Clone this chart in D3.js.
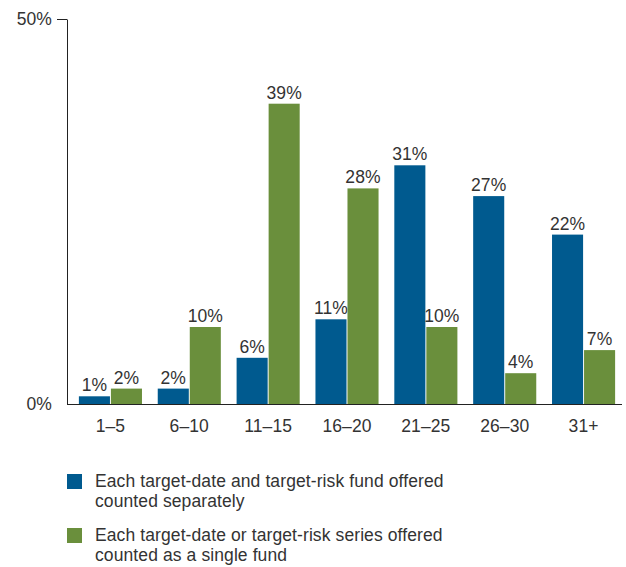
<!DOCTYPE html>
<html><head><meta charset="utf-8">
<script src="https://cdn.jsdelivr.net/npm/d3@7"></script>
<style>body{margin:0;background:#fff;} text{font-family:"Liberation Sans",Arial,sans-serif;fill:#333;letter-spacing:0.1px;}</style>
</head><body>
<svg id="c" width="626" height="567"></svg>
<script>
const categories = ["1–5","6–10","11–15","16–20","21–25","26–30","31+"];
const seriesNames = ["Each target-date and target-risk fund offered|counted separately",
                     "Each target-date or target-risk series offered|counted as a single fund"];
const separately = [1,2,6,11,31,27,22];
const single = [2,10,39,28,10,4,7];
const yTicks = [0,50];
const colors = ["#005a8f","#6a8f3c"];
const FS = "17.5px";

const svg = d3.select("#c");
const x = d3.scaleBand().domain(categories).range([71,623]).paddingInner(0.2).paddingOuter(0.1);
const y = d3.scaleLinear().domain([0,50]).range([404,19]);
const xs = d3.scaleBand().domain([0,1]).range([0,x.bandwidth()]).paddingInner(0.03);

// axes
const ya = svg.append("g").attr("transform","translate(67,0)")
  .call(d3.axisLeft(y).tickValues(yTicks).tickFormat(d=>d+"%").tickSize(10).tickSizeOuter(0));
ya.select(".domain").attr("stroke","#222");
ya.selectAll(".tick line").attr("stroke","#222").attr("stroke-width",1).filter(d=>d===0).remove();
ya.selectAll(".tick text").attr("x",-15).style("font-size",FS).style("font-family","Liberation Sans, Arial").attr("fill","#333");

const xa = svg.append("g").attr("transform","translate(0,404)")
  .call(d3.axisBottom(x).tickSize(0).tickSizeOuter(0));
xa.select(".domain").attr("d","M67,0.5H622").attr("stroke","#222");
xa.selectAll(".tick text").attr("dy","1.42em").style("font-size",FS).style("font-family","Liberation Sans, Arial").attr("fill","#333");

const data = [separately, single];
data.forEach((vals,si)=>{
  const g = svg.append("g");
  g.selectAll("rect").data(vals).join("rect")
    .attr("x",(d,i)=>x(categories[i])+xs(si))
    .attr("width",xs.bandwidth())
    .attr("y",d=>y(d))
    .attr("height",d=>y(0)-y(d))
    .attr("fill",colors[si]);
  g.selectAll("text").data(vals).join("text")
    .attr("x",(d,i)=>x(categories[i])+xs(si)+xs.bandwidth()/2)
    .attr("y",d=>y(d)-5)
    .attr("text-anchor","middle")
    .style("font-size",FS)
    .text(d=>d+"%");
});

// legend
const lg = svg.append("g");
seriesNames.forEach((n,i)=>{
  const top = 474 + i*54;
  lg.append("rect").attr("x",67).attr("y",top).attr("width",15).attr("height",15).attr("fill",colors[i]);
  n.split("|").forEach((line,j)=>{
    lg.append("text").attr("x",95).attr("y",top+13+j*19.5).style("font-size",FS).text(line);
  });
});
</script>
</body></html>
